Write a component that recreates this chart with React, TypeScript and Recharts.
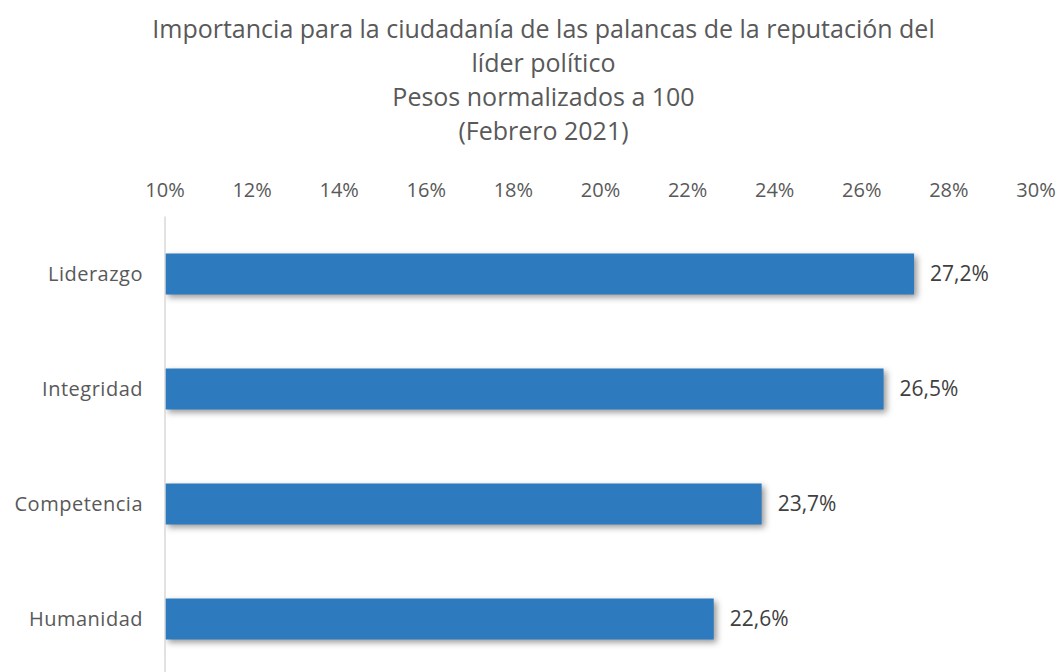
import { BarChart, Bar, XAxis, YAxis, LabelList } from 'recharts'

const categories = ['Liderazgo', 'Integridad', 'Competencia', 'Humanidad']
const weights = [27.2, 26.5, 23.7, 22.6]
const xTicks = [10, 12, 14, 16, 18, 20, 22, 24, 26, 28, 30]
const titleLines = [
  'Importancia para la ciudadanía de las palancas de la reputación del',
  'líder político',
  'Pesos normalizados a 100',
  '(Febrero 2021)',
]

const data = categories.map((name, i) => ({ name, value: weights[i] }))

const font = '"Open Sans", "Noto Sans", sans-serif'

function ShadowBar(props: any) {
  const { x, y, width, height, fill } = props
  return (
    <rect
      x={x}
      y={y}
      width={width}
      height={height}
      fill={fill}
      style={{ filter: 'drop-shadow(3px 3px 3px rgba(0,0,0,0.4))' }}
    />
  )
}

function App() {
  return (
    <div
      style={{
        position: 'absolute',
        left: 0,
        top: 0,
        width: 1061,
        height: 672,
        overflow: 'hidden',
        background: '#fff',
        fontFamily: font,
      }}
    >
      <div
        style={{
          position: 'absolute',
          left: 0,
          top: 11,
          width: 1087,
          textAlign: 'center',
          fontSize: 25,
          lineHeight: '34px',
          color: '#595959',
        }}
      >
        {titleLines.map((t) => (
          <div key={t}>{t}</div>
        ))}
      </div>
      <BarChart
        width={1061}
        height={680}
        data={data}
        layout="vertical"
        margin={{ top: 176.5, right: 25, bottom: 3.5, left: 0 }}
        barSize={41}
      >
        <XAxis
          type="number"
          orientation="top"
          domain={[10, 30]}
          ticks={xTicks}
          tickFormatter={(v: number) => `${v}%`}
          axisLine={false}
          tickLine={false}
          tickSize={0}
          tickMargin={20}
          height={40}
          tick={{ fill: '#595959', fontSize: 20, fontFamily: font }}
          allowDataOverflow
        />
        <YAxis
          type="category"
          dataKey="name"
          width={165}
          axisLine={{ stroke: '#d9d9d9', strokeWidth: 1.5 }}
          tickLine={false}
          tickSize={0}
          tickMargin={22}
          tick={{ fill: '#595959', fontSize: 20, fontFamily: font, letterSpacing: 0.5 }}
        />
        <Bar
          dataKey="value"
          fill="#2e7abf"
          shape={<ShadowBar />}
          isAnimationActive={false}
        >
          <LabelList
            dataKey="value"
            position="right"
            offset={16}
            formatter={(v: any) => `${String(v).replace('.', ',')}%`}
            style={{ fill: '#404040', fontSize: 21, fontFamily: font }}
          />
        </Bar>
      </BarChart>
    </div>
  )
}

export default App
